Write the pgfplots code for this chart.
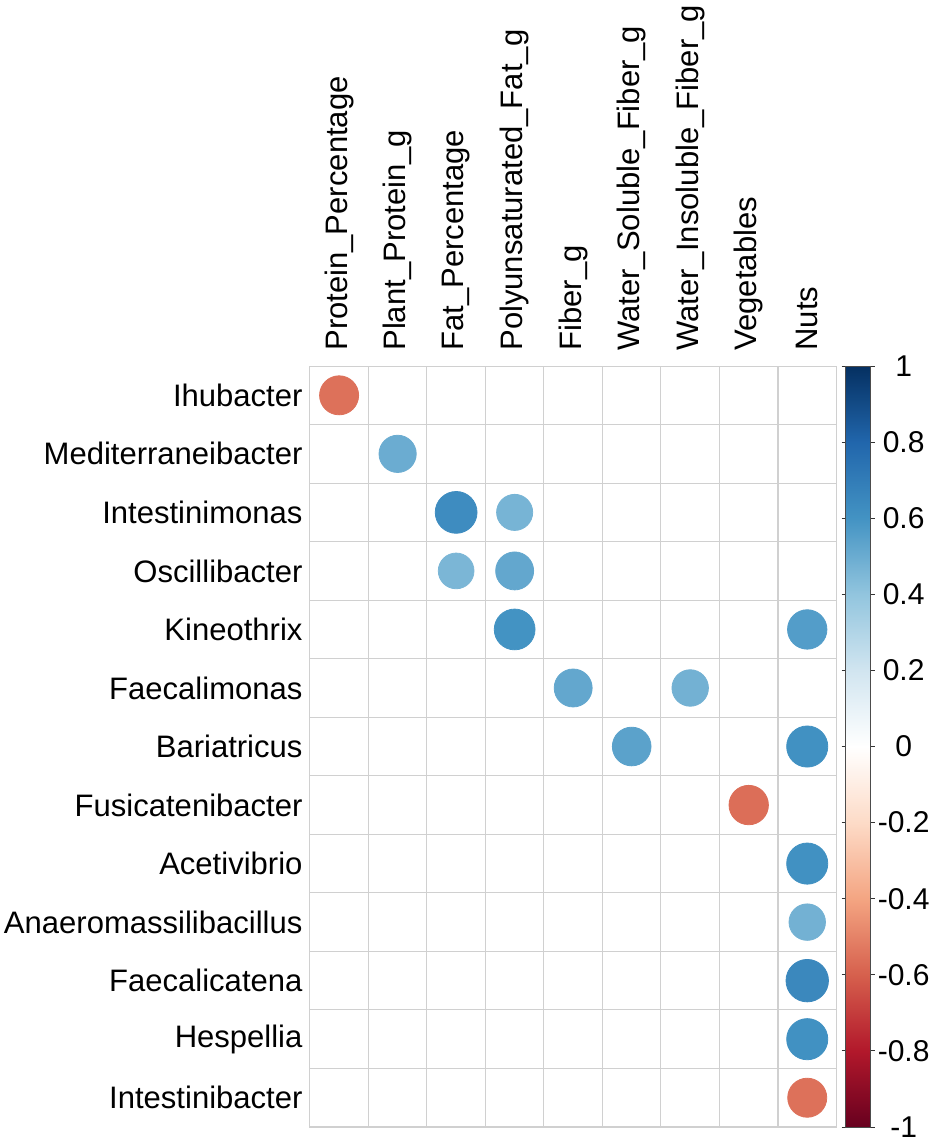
\documentclass[border=0pt]{standalone}
\usepackage{fontspec}
\setmainfont{Liberation Sans}
\usepackage{pgfplots}
\pgfplotsset{compat=1.18}

\definecolor{gridgray}{RGB}{208,208,208}

% correlations: column (1..9), row (1..13, top to bottom), r
\pgfplotstableread{
c row r
1 1 -0.55
2 2 0.50
3 3 0.63
4 3 0.47
3 4 0.46
4 4 0.52
4 5 0.60
9 5 0.56
5 6 0.52
7 6 0.48
6 7 0.54
9 7 0.61
8 8 -0.56
9 9 0.61
9 10 0.48
9 11 0.65
9 12 0.61
9 13 -0.55
}\corrdata

\begin{document}
\begin{tikzpicture}
\begin{axis}[
  name=main,
  width=263pt, height=380pt,
  scale only axis,
  xmin=0.5, xmax=9.5,
  ymin=0.5, ymax=13.5,
  y dir=reverse,
  axis line style={draw=gridgray, line width=0.55pt},
  xtick={1,...,9},
  xticklabels={Protein\_Percentage, Plant\_Protein\_g, Fat\_Percentage,
    Polyunsaturated\_Fat\_g, Fiber\_g, Water\_Soluble\_Fiber\_g,
    Water\_Insoluble\_Fiber\_g, Vegetables, Nuts},
  ytick={1,...,13},
  yticklabels={Ihubacter, Mediterraneibacter, Intestinimonas, Oscillibacter,
    Kineothrix, Faecalimonas, Bariatricus, Fusicatenibacter, Acetivibrio,
    Anaeromassilibacillus, Faecalicatena, Hespellia, Intestinibacter},
  minor xtick={0.5,1.5,...,9.5},
  minor ytick={0.5,1.5,...,13.5},
  xminorgrids, yminorgrids,
  minor grid style={draw=gridgray, line width=0.55pt},
  major tick length=0pt, minor tick length=0pt,
  xticklabel pos=top,
  ticklabel style={font=\fontsize{15.5}{18}\selectfont, inner sep=0pt},
  xticklabel style={rotate=90, anchor=west},
  xticklabel shift=7.5pt,
  yticklabel style={anchor=east},
  yticklabel shift=3.5pt,
  colormap={rdbu}{rgb255=(103,0,31) rgb255=(178,24,43) rgb255=(214,96,77)
    rgb255=(244,165,130) rgb255=(253,219,199) rgb255=(255,255,255)
    rgb255=(209,229,240) rgb255=(146,197,222) rgb255=(67,147,195)
    rgb255=(33,102,172) rgb255=(5,48,97)},
  point meta min=-1, point meta max=1,
  colorbar,
  colorbar style={
    at={(parent axis.north east)}, anchor=north west, xshift=-4pt,
    width=12.5pt,
    axis line style={draw=black!70, line width=0.4pt},
    ytick={-1,-0.8,...,1},
    yticklabels={-1,-0.8,-0.6,-0.4,-0.2,0,0.2,0.4,0.6,0.8,1},
    yticklabel pos=right,
    major tick length=2pt,
    tick align=outside,
    tick style={draw=black!80, line width=0.4pt},
    yticklabel style={font=\fontsize{15}{18}\selectfont, anchor=center, xshift=14.5pt, inner sep=0pt},
    yticklabel shift=0pt,
  },
]
\addplot[scatter, only marks, mark=*,
  point meta=explicit,
  scatter/use mapped color={draw=mapped color, fill=mapped color},
  visualization depends on={13.15*sqrt(abs(\thisrow{r})) \as \rad},
  scatter/@pre marker code/.append style={/tikz/mark size=\rad pt},
] table[x=c, y=row, meta=r] {\corrdata};
\end{axis}
% margins around the labels, as in the reference
\path (main.south) ++(0,-8pt);
\path (main.outer north) ++(0,2.5pt);
\path (main.outer west) ++(-2pt,0);
\end{tikzpicture}
\end{document}
